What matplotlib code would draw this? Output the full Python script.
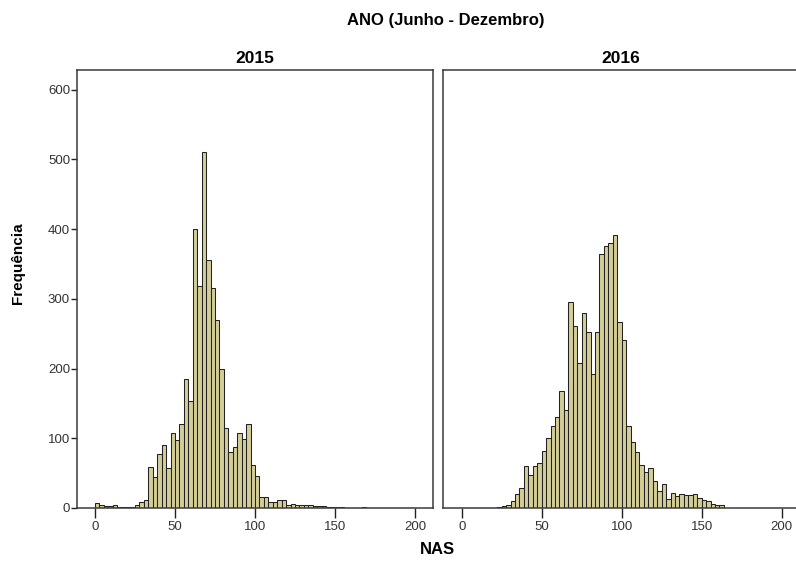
import numpy as np
import matplotlib
matplotlib.use("Agg")
import matplotlib.pyplot as plt

plt.rcParams['font.family'] = ['Liberation Sans', 'DejaVu Sans']

# ---- data ----
bin_width = 50 / 18  # histogram bin width (NAS units)

years = ["2015", "2016"]

counts_2015 = [7, 5, 3, 3, 4, 1, 1, 1, 2, 5, 9, 12, 59, 45, 78, 91, 57, 108, 98, 121,
               185, 153, 400, 318, 510, 356, 315, 270, 200, 114, 81, 88, 107, 99, 120,
               61, 46, 16, 16, 9, 9, 11, 11, 5, 6, 4, 4, 5, 4, 3, 3, 3, 2, 1, 1, 1,
               0, 0, 0, 0, 1]

counts_2016 = [0, 0, 0, 0, 0, 0, 0, 0, 2, 3, 5, 10, 20, 28, 60, 48, 60, 65, 82, 100,
               118, 130, 168, 140, 296, 261, 208, 279, 252, 192, 252, 364, 376, 380,
               391, 266, 241, 117, 94, 81, 62, 51, 58, 39, 24, 34, 13, 22, 17, 20, 19,
               19, 20, 14, 12, 10, 6, 5, 4]

x_ticks = [0, 50, 100, 150, 200]
y_ticks = [0, 100, 200, 300, 400, 500, 600]

title = "ANO (Junho - Dezembro)"
x_label = "NAS"
y_label = "Frequência"

# ---- figure ----
W, H = 796, 563
fig = plt.figure(figsize=(W / 100, H / 100), dpi=100)

bar_face = "#d3ce97"
bar_edge = "#222222"
frame_col = "#3a3a3a"

panels = [
    (77, -11.25, counts_2015),
    (443, -11.7, counts_2016),
]
pw = 356
top_px, base_px = 70, 508

for i, (left_px, xmin, counts) in enumerate(panels):
    ax = fig.add_axes([left_px / W, 1 - base_px / H, pw / W, (base_px - top_px) / H])
    counts = np.asarray(counts)
    edges = np.arange(len(counts)) * bin_width
    ax.bar(edges, counts, width=bin_width, align='edge', color=bar_face,
           edgecolor=bar_edge, linewidth=0.75, zorder=2)
    ax.set_xlim(xmin, xmin + pw / 1.6)
    ax.set_ylim(0, 628)
    ax.set_xticks(x_ticks)
    ax.set_xticklabels([str(t) for t in x_ticks], fontsize=9.5, color="#333333")
    ax.tick_params(axis='x', direction='out', length=7, width=1.0, color="#222222", pad=2)
    if i == 0:
        ax.set_yticks(y_ticks)
        ax.set_yticklabels([str(t) for t in y_ticks], fontsize=9.5, color="#333333")
        ax.tick_params(axis='y', direction='out', length=4, width=1.0, color="#222222", pad=1)
    else:
        ax.set_yticks([])
    for s in ax.spines.values():
        s.set_color(frame_col)
        s.set_linewidth(1.1)
    ax.set_title(years[i], fontsize=12.5, fontweight='bold', pad=5)

fig.text(446 / W, 1 - 20 / H, title, ha='center', va='center', fontsize=12, fontweight='bold')
fig.text(437 / W, 1 - 550 / H, x_label, ha='center', va='center', fontsize=12, fontweight='bold')
fig.text(18 / W, 1 - 263 / H, y_label, ha='center', va='center', rotation=90,
         fontsize=11, fontweight='bold')

fig.savefig("out.png", dpi=100)
